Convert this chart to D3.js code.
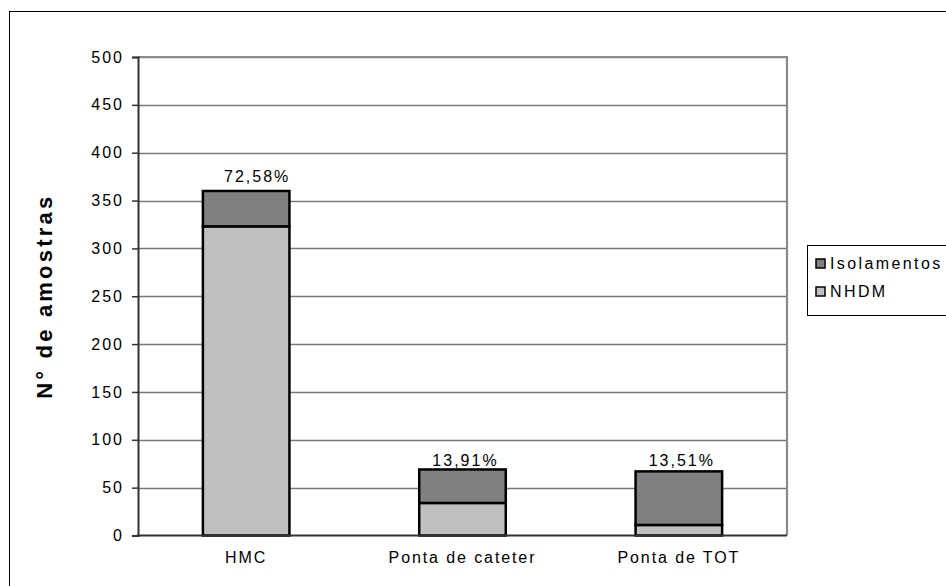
<!DOCTYPE html>
<html>
<head>
<meta charset="utf-8">
<script src="https://cdn.jsdelivr.net/npm/d3@7"></script>
<style>
  html, body { margin: 0; padding: 0; background: #fff; }
  svg { display: block; font-family: "Liberation Sans", Arial, sans-serif; }
</style>
</head>
<body>
<svg id="chart" width="946" height="586"></svg>
<script>
// Sample types and counts per type
const categories = ["HMC", "Ponta de cateter", "Ponta de TOT"];
const nhdm = [323, 34, 11];
const isolamentos = [37, 35, 56];
const seriesNames = ["Isolamentos", "NHDM"];
const yTicks = [0, 50, 100, 150, 200, 250, 300, 350, 400, 450, 500];

const svg = d3.select("#chart");
const W = 946, H = 586;

// Outer chart frame
svg.append("rect")
  .attr("x", 9.5).attr("y", 11.5)
  .attr("width", W + 10).attr("height", H + 10)
  .attr("fill", "#fff").attr("stroke", "#000").attr("stroke-width", 1);

const plot = { left: 138, right: 787, top: 57, bottom: 535.5 };

const x = d3.scaleBand()
  .domain(categories)
  .range([plot.left, plot.right])
  .paddingInner(0.6).paddingOuter(0.3);

const y = d3.scaleLinear()
  .domain([0, 500])
  .range([plot.bottom, plot.top]);

// Horizontal gridlines
svg.append("g")
  .selectAll("line")
  .data(yTicks.filter(d => d > 0))
  .join("line")
  .attr("x1", plot.left).attr("x2", plot.right)
  .attr("y1", d => Math.round(y(d)) + 0.5).attr("y2", d => Math.round(y(d)) + 0.5)
  .attr("stroke", "#7a7a7a").attr("stroke-width", 1.3);

// Plot area border (right/top)
svg.append("path")
  .attr("d", `M${plot.left},${plot.top} H${plot.right} V${plot.bottom}`)
  .attr("fill", "none").attr("stroke", "#8a8a8a").attr("stroke-width", 2.2);

// Y axis
const yAxis = d3.axisLeft(y)
  .tickValues(yTicks)
  .tickSize(6)
  .tickPadding(8);
const gy = svg.append("g")
  .attr("transform", `translate(${plot.left},0)`)
  .call(yAxis);
gy.select(".domain").attr("stroke", "#333").attr("stroke-width", 2);
gy.selectAll(".tick line").attr("stroke", "#333").attr("stroke-width", 1.5);
gy.selectAll(".tick text")
  .attr("font-size", 16).attr("fill", "#000")
  .attr("font-family", "Liberation Sans, Arial, sans-serif")
  .style("letter-spacing", "2px");

// Stacked bars
const stackData = categories.map((c, i) => ({ cat: c, NHDM: nhdm[i], Isolamentos: isolamentos[i] }));
const stack = d3.stack().keys(["NHDM", "Isolamentos"])(stackData);
const colors = { NHDM: "#c0c0c0", Isolamentos: "#808080" };

svg.append("g")
  .selectAll("g")
  .data(stack)
  .join("g")
  .attr("fill", d => colors[d.key])
  .selectAll("rect")
  .data(d => d)
  .join("rect")
  .attr("x", d => x(d.data.cat))
  .attr("width", x.bandwidth())
  .attr("y", d => y(d[1]))
  .attr("height", d => y(d[0]) - y(d[1]))
  .attr("stroke", "#000").attr("stroke-width", 2.5);

// X axis baseline
svg.append("line")
  .attr("x1", plot.left - 1).attr("x2", plot.right)
  .attr("y1", plot.bottom).attr("y2", plot.bottom)
  .attr("stroke", "#333").attr("stroke-width", 2);

// Category labels
svg.append("g")
  .selectAll("text")
  .data(categories)
  .join("text")
  .attr("x", d => x(d) + x.bandwidth() / 2)
  .attr("y", 563)
  .attr("text-anchor", "middle")
  .attr("font-size", 16)
  .style("letter-spacing", "1.9px")
  .text(d => d);

// Share of all samples above each bar (labels nudged as placed in the sheet)
const totals = categories.map((c, i) => nhdm[i] + isolamentos[i]);
const grand = d3.sum(totals);
const labelNudge = [[11, -9], [3, -3], [3, -5]];
svg.append("g")
  .selectAll("text")
  .data(categories)
  .join("text")
  .attr("x", (d, i) => x(d) + x.bandwidth() / 2 + labelNudge[i][0])
  .attr("y", (d, i) => y(totals[i]) + labelNudge[i][1])
  .attr("text-anchor", "middle")
  .attr("font-size", 16)
  .style("letter-spacing", "2px")
  .text((d, i) => (totals[i] / grand * 100).toFixed(2).replace(".", ",") + "%");

// Y axis title
svg.append("text")
  .attr("transform", `translate(52,${(plot.top + plot.bottom) / 2}) rotate(-90)`)
  .attr("text-anchor", "middle")
  .attr("font-size", 22)
  .attr("font-weight", "bold")
  .style("letter-spacing", "3.2px")
  .text("N° de amostras");

// Legend
const lg = svg.append("g");
lg.append("rect")
  .attr("x", 807.5).attr("y", 245.5)
  .attr("width", 160).attr("height", 70)
  .attr("fill", "#fff").attr("stroke", "#000").attr("stroke-width", 1);
seriesNames.forEach((name, i) => {
  const yy = 259 + i * 28;
  lg.append("rect")
    .attr("x", 816).attr("y", yy)
    .attr("width", 9).attr("height", 9)
    .attr("fill", colors[name]).attr("stroke", "#000").attr("stroke-width", 1.5);
  lg.append("text")
    .attr("x", 830).attr("y", yy + 10)
    .attr("font-size", 16)
    .style("letter-spacing", "2.4px")
    .text(name);
});
</script>
</body>
</html>
